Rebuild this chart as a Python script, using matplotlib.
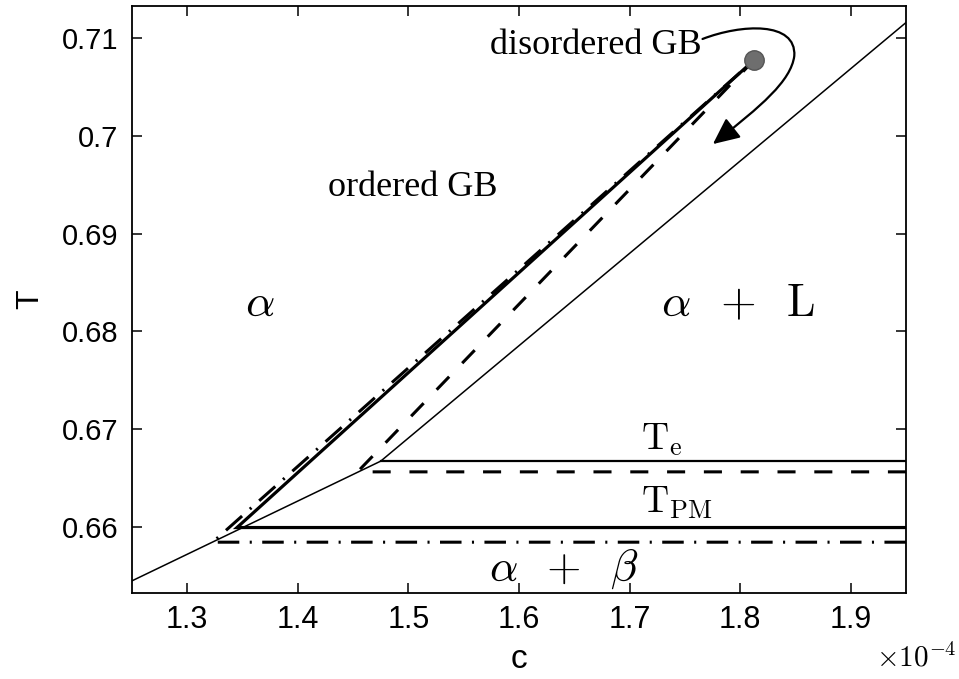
import matplotlib
matplotlib.use("Agg")
import matplotlib.pyplot as plt
from matplotlib.path import Path
from matplotlib.patches import FancyArrowPatch

plt.rcParams["mathtext.fontset"] = "cm"
plt.rcParams["font.family"] = ["Liberation Sans", "DejaVu Sans"]
plt.rcParams["lines.scale_dashes"] = False

# ----------------------------------------
# phase diagram data (c in units of 1e-4)
# ----------------------------------------
# bulk solvus + liquidus (thin line), kink at the bulk eutectic
c_bulk = [1.25, 1.475, 1.95]
T_bulk = [0.65444, 0.6667, 0.7116]

# eutectic temperature
c_Te = [1.475, 1.95]
T_e = 0.6667

# critical point of the GB transition
c_crit = 1.813
T_crit = 0.7078

# GB premelting line (solid), GB lines for other models (dashed, dash-dot)
c_pm = [1.95, 1.345, c_crit]
T_pm = [0.6599, 0.6599, T_crit]

c_dash = [1.95, 1.454, c_crit]
T_dash = [0.6656, 0.6656, T_crit]

c_dd = [1.95, 1.323, c_crit]
T_dd = [0.6584, 0.6584, T_crit]

x_ticks = [1.3, 1.4, 1.5, 1.6, 1.7, 1.8, 1.9]
y_ticks = [0.66, 0.67, 0.68, 0.69, 0.70, 0.71]
y_ticklabels = ["0.66", "0.67", "0.68", "0.69", "0.7", "0.71"]

# ----------------------------------------
# figure
# ----------------------------------------
fig = plt.figure(figsize=(9.59, 6.79), dpi=100)
ax = fig.add_axes([0.1376, 0.1267, 0.8071, 0.8645])

ax.plot(c_bulk, T_bulk, color="k", lw=1.1)
ax.plot(c_Te, [T_e, T_e], color="k", lw=1.6)
ax.plot(c_pm, T_pm, color="k", lw=2.3, solid_joinstyle="miter")
ax.plot(c_dash, T_dash, color="k", lw=2.2, dashes=(13, 13.5))
ax.plot(c_dd, T_dd, color="k", lw=2.2, dashes=(15.5, 7.5, 1.5, 7.5))
ax.plot([c_crit], [T_crit], "o", ms=14, color="#6e6e6e", mec="#555555")

# curved arrow around the critical point
verts = [(1.766, 0.70992), (1.801, 0.71145), (1.851, 0.71176), (1.849, 0.70818),
         (1.846, 0.70561), (1.819, 0.70305), (1.7754, 0.69916)]
codes = [Path.MOVETO] + [Path.CURVE4] * 6
arrow = FancyArrowPatch(path=Path(verts, codes),
                        arrowstyle="-|>,head_length=0.65,head_width=0.3",
                        mutation_scale=25, color="k", lw=1.6)
ax.add_patch(arrow)

# labels inside the diagram
serif = ["Liberation Serif", "DejaVu Serif"]
ax.text(1.765, 0.7093, "disordered GB", family=serif, fontsize=26,
        ha="right", va="center")
ax.text(1.504, 0.6947, "ordered GB", family=serif, fontsize=26,
        ha="center", va="center")
ax.text(1.366, 0.6828, r"$\alpha$", fontsize=33, ha="center", va="center")
ax.text(1.7985, 0.6828, r"$\alpha\;\;+\;\;\mathrm{L}$", fontsize=33,
        ha="center", va="center")
ax.text(1.641, 0.6556, r"$\alpha\;\;+\;\;\beta$", fontsize=32,
        ha="center", va="center")
ax.text(1.710, 0.6679, r"$\mathrm{T_e}$", fontsize=27, ha="left", va="baseline")
ax.text(1.710, 0.6614, r"$\mathrm{T_{PM}}$", fontsize=27, ha="left",
        va="baseline")

# axes, MATLAB-like box with inward ticks
ax.set_xlim(1.25, 1.95)
ax.set_ylim(0.6532, 0.7133)
ax.set_xticks(x_ticks)
ax.set_xticklabels([f"{v:.1f}" for v in x_ticks])
ax.set_yticks(y_ticks)
ax.set_yticklabels(y_ticklabels)
ax.tick_params(direction="in", length=7, width=1.1, top=True, right=True,
               labelsize=22, pad=9)
ax.tick_params(axis="y", labelsize=21, pad=10)
for s in ax.spines.values():
    s.set_linewidth(1.3)

ax.set_xlabel("c", fontsize=24, labelpad=6)
ax.set_ylabel("T", fontsize=23, labelpad=12)
fig.text(0.998, 0.031, r"$\times10^{-4}$", fontsize=21, ha="right",
         va="center", family=["DejaVu Sans"])

fig.savefig("out.png", dpi=100)
